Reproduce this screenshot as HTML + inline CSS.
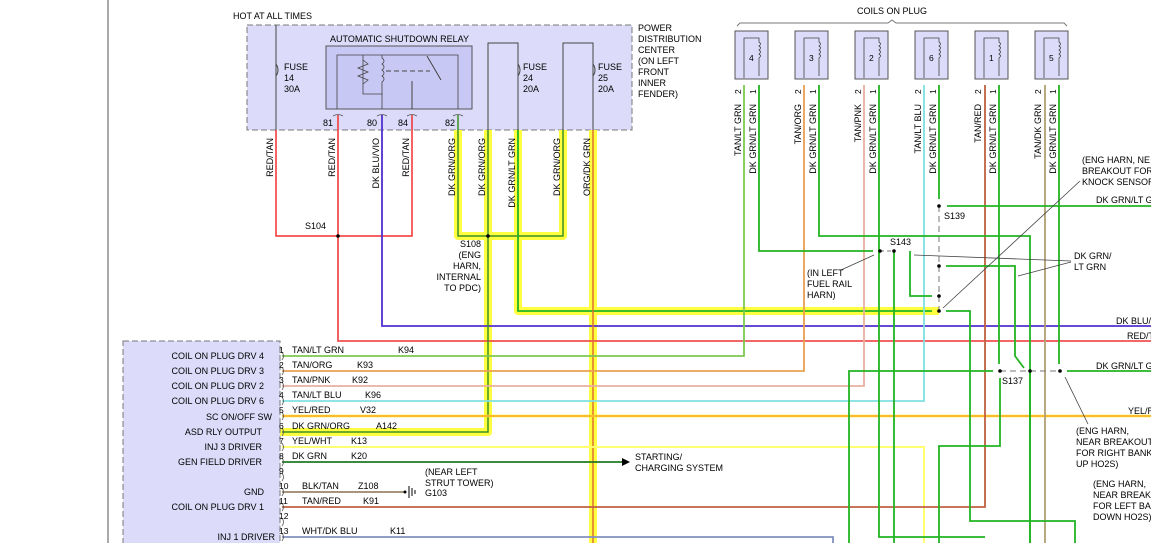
<!DOCTYPE html>
<html><head><meta charset="utf-8"><style>
html,body{margin:0;padding:0;background:#fff;}
svg{display:block;font-family:"Liberation Sans",sans-serif;font-size:9px;}
</style></head><body>
<svg width="1151" height="543" viewBox="0 0 1151 543" xmlns="http://www.w3.org/2000/svg">
<g fill="none" stroke-linecap="butt">
<!-- left border line -->
<line x1="108" y1="0" x2="108" y2="543" stroke="#555" stroke-width="1"/>
<!-- PDC box -->
<rect x="247" y="25" width="385" height="105" fill="#dcdcfa" stroke="#777" stroke-dasharray="6,3"/>
<rect x="326" y="46" width="146" height="63" fill="#c8c8f4" stroke="#555"/>
<!-- relay internals -->
<polyline points="337,109 337,55 458,55 458,109" stroke="#444" stroke-width="0.8" fill="none"/>
<polyline points="363,55 363,94 382,94 382,109" stroke="#444" stroke-width="0.8"/>
<polyline points="363,60 368,64 358,68 368,72 358,76 368,80 363,84" stroke="#444" stroke-width="0.8"/>
<path d="M382,55 v3 q4,3 0,6 q4,3 0,6 q4,3 0,6 q4,3 0,6 v13" stroke="#444" stroke-width="0.8"/>
<line x1="386" y1="71" x2="430" y2="71" stroke="#444" stroke-dasharray="5,3"/>
<line x1="427" y1="56" x2="441" y2="80" stroke="#444"/>
<line x1="412" y1="81" x2="412" y2="109" stroke="#444"/>
<!-- fuse 24/25 loops -->
<polyline points="488,130 488,43 518,43 518,130" stroke="#444"/>
<polyline points="563,130 563,43 593,43 593,130" stroke="#444"/>
<line x1="276" y1="25" x2="276" y2="130" stroke="#444"/>
<path d="M276,64 q4,6 0,12 M518,64 q4,6 0,12 M593,64 q4,6 0,12" stroke="#444"/>

<!-- yellow highlights -->
<g stroke="#ffff40" stroke-width="8" stroke-linejoin="round">
<polyline points="458,130 458,236 563,236 563,130"/>
<polyline points="488,130 488,432 280,432"/>
<polyline points="518,130 518,311 939,311"/>
<line x1="593" y1="130" x2="593" y2="543"/>
</g>
<!-- PDC wires -->
<polyline points="276,130 276,236 412,236 412,115" stroke="#f03030" stroke-width="1.5"/>
<polyline points="338,115 338,341 1151,341" stroke="#f05050" stroke-width="1.8"/>
<polyline points="382,115 382,326 1151,326" stroke="#5030d0" stroke-width="1.8"/>
<g stroke="#3a9020" stroke-width="1.5">
<polyline points="458,115 458,236 563,236 563,130"/>
<polyline points="488,130 488,432 282,432"/>
</g>
<polyline points="518,130 518,311 932,311" stroke="#22b422" stroke-width="1.8"/>
<line x1="593" y1="130" x2="593" y2="543" stroke="#e07030" stroke-width="1.5"/>

<!-- PCM box -->
<rect x="123" y="341" width="157" height="210" fill="#dcdcfa" stroke="#777" stroke-dasharray="6,3"/>

<!-- PCM row wires -->
<polyline points="282,356 744,356 744,85" stroke="#7ec850" stroke-width="1.8"/>
<polyline points="282,371 804,371 804,85" stroke="#e8a050" stroke-width="1.8"/>
<polyline points="282,386 864,386 864,85" stroke="#e8b0a0" stroke-width="1.8"/>
<polyline points="282,401 924,401 924,85" stroke="#80e0e0" stroke-width="1.8"/>
<line x1="282" y1="416" x2="1151" y2="416" stroke="#ffe020" stroke-width="2.5"/>
<line x1="282" y1="416" x2="1151" y2="416" stroke="#f05050" stroke-width="0.6"/>
<polyline points="282,447 924,447 924,543" stroke="#ffff70" stroke-width="2"/>
<line x1="282" y1="462" x2="622" y2="462" stroke="#207a20" stroke-width="1.8"/>
<polygon points="622,458 630,462 622,466" fill="#000"/>
<line x1="282" y1="492" x2="405" y2="492" stroke="#8a7050" stroke-width="1.5"/>
<polyline points="282,507 985,507 985,85" stroke="#c06040" stroke-width="1.8"/>
<polyline points="282,537 833,537 833,543" stroke="#8090c0" stroke-width="1.8"/>
<line x1="1045" y1="85" x2="1045" y2="543" stroke="#b0a070" stroke-width="1.8"/>
<!-- ground symbol -->
<path d="M409,486 v12 M412,488 v8 M415,490 v4" stroke="#000"/>

<!-- green network -->
<g stroke="#22b422" stroke-width="1.8">
<polyline points="759,85 759,251 873,251"/>
<polyline points="819,85 819,236 1030,236 1030,543"/>
<polyline points="879,85 879,537 985,537"/>
<polyline points="939,85 939,199"/>
<polyline points="999,85 999,364"/>
<polyline points="1059,85 1059,364"/>
<line x1="947" y1="206" x2="1151" y2="206"/>
<polyline points="910,251 910,296 932,296"/>
<polyline points="946,266 1015,266 1015,356 1024,368"/>
<polyline points="946,311 970,311 970,521 1075,521 1075,543"/>
<polyline points="894,251 894,543"/>
<polyline points="849,543 849,371 993,371"/>
<line x1="1067" y1="371" x2="1151" y2="371"/>
<polyline points="1000,378 1000,446 939,446 939,543"/>
<line x1="1030" y1="371" x2="1030" y2="543"/>
</g>
<line x1="939" y1="206" x2="939" y2="311" stroke="#777" stroke-dasharray="6,4"/>
<line x1="1000" y1="371" x2="1060" y2="371" stroke="#777" stroke-dasharray="6,4"/>
<line x1="880" y1="251" x2="894" y2="251" stroke="#777" stroke-dasharray="4,3"/>

<!-- coils -->
<g stroke="#555" fill="#dcdcfa">
<rect x="735" y="31" width="33" height="48"/><rect x="795" y="31" width="33" height="48"/>
<rect x="855" y="31" width="33" height="48"/><rect x="915" y="31" width="33" height="48"/>
<rect x="975" y="31" width="33" height="48"/><rect x="1035" y="31" width="33" height="48"/>
</g>
<g stroke="#444" stroke-width="0.8">
<path d="M744,78 v-40 h15 v4 q3,2 0,4 q3,2 0,4 q3,2 0,4 q3,2 0,4 v18"/>
<path d="M804,78 v-40 h15 v4 q3,2 0,4 q3,2 0,4 q3,2 0,4 q3,2 0,4 v18"/>
<path d="M864,78 v-40 h15 v4 q3,2 0,4 q3,2 0,4 q3,2 0,4 q3,2 0,4 v18"/>
<path d="M924,78 v-40 h15 v4 q3,2 0,4 q3,2 0,4 q3,2 0,4 q3,2 0,4 v18"/>
<path d="M984,78 v-40 h15 v4 q3,2 0,4 q3,2 0,4 q3,2 0,4 q3,2 0,4 v18"/>
<path d="M1044,78 v-40 h15 v4 q3,2 0,4 q3,2 0,4 q3,2 0,4 q3,2 0,4 v18"/>
</g>
<path d="M737,26 l3,-3 h148 l4,-3 l4,3 h168 l3,3" stroke="#777"/>
<!-- connector arcs PCM -->
<g stroke="#555" stroke-width="0.8">
<path d="M282,352 q3,4 0,8 M282,367 q3,4 0,8 M282,382 q3,4 0,8 M282,397 q3,4 0,8 M282,412 q3,4 0,8 M282,428 q3,4 0,8 M282,443 q3,4 0,8 M282,458 q3,4 0,8 M282,473 q3,4 0,8 M282,488 q3,4 0,8 M282,503 q3,4 0,8 M282,518 q3,4 0,8 M282,533 q3,4 0,8"/>
<path d="M333,116 q5,-3 10,0 M377,116 q5,-3 10,0 M407,116 q5,-3 10,0 M453,116 q5,-3 10,0"/>
</g>
<!-- leader lines -->
<g stroke="#444" stroke-width="0.8">
<line x1="1080" y1="181" x2="943" y2="308"/>
<line x1="1071" y1="261" x2="914" y2="255"/>
<line x1="1071" y1="262" x2="1018" y2="276"/>
<line x1="841" y1="270" x2="874" y2="255"/>
<line x1="1088" y1="424" x2="1065" y2="377"/>
</g>
</g>
<!-- dots -->
<g fill="#000">
<circle cx="338" cy="236" r="1.8"/><circle cx="488" cy="236" r="1.8"/>
<circle cx="939" cy="206" r="1.8"/><circle cx="880" cy="251" r="1.8"/><circle cx="894" cy="251" r="1.8"/>
<circle cx="939" cy="266" r="1.8"/><circle cx="939" cy="296" r="1.8"/><circle cx="939" cy="311" r="1.8"/>
<circle cx="1000" cy="371" r="1.8"/><circle cx="1030" cy="371" r="1.8"/><circle cx="1060" cy="371" r="1.8"/>
<circle cx="405" cy="492" r="1.5"/>
</g>

<!-- texts -->
<g fill="#000">
<text x="233" y="19">HOT AT ALL TIMES</text>
<text x="330" y="42">AUTOMATIC SHUTDOWN RELAY</text>
<text x="284" y="70">FUSE</text><text x="284" y="81">14</text><text x="284" y="92">30A</text>
<text x="523" y="70">FUSE</text><text x="523" y="81">24</text><text x="523" y="92">20A</text>
<text x="598" y="70">FUSE</text><text x="598" y="81">25</text><text x="598" y="92">20A</text>
<text x="638" y="31">POWER</text><text x="638" y="42">DISTRIBUTION</text><text x="638" y="53">CENTER</text>
<text x="638" y="64">(ON LEFT</text><text x="638" y="75">FRONT</text><text x="638" y="86">INNER</text><text x="638" y="97">FENDER)</text>
<text x="323" y="126">81</text><text x="367" y="126">80</text><text x="398" y="126">84</text><text x="445" y="126">82</text>
<text x="305" y="229">S104</text>
<text x="460" y="247">S108</text>
<text x="481" y="258" text-anchor="end">(ENG</text><text x="481" y="269" text-anchor="end">HARN,</text>
<text x="481" y="280" text-anchor="end">INTERNAL</text><text x="481" y="291" text-anchor="end">TO PDC)</text>
<text x="857" y="14">COILS ON PLUG</text>
<g font-size="8.5"><text x="749" y="61">4</text><text x="809" y="61">3</text><text x="869" y="61">2</text><text x="929" y="61">6</text><text x="989" y="61">1</text><text x="1049" y="61">5</text></g>
<text x="944" y="219">S139</text><text x="890" y="245">S143</text><text x="1002" y="384">S137</text>
<text x="807" y="276">(IN LEFT</text><text x="807" y="287">FUEL RAIL</text><text x="807" y="298">HARN)</text>
<text x="1082" y="163">(ENG HARN, NE</text><text x="1082" y="174">BREAKOUT FOR</text><text x="1082" y="185">KNOCK SENSOR</text>
<text x="1096" y="203">DK GRN/LT G</text>
<text x="1074" y="259">DK GRN/</text><text x="1074" y="270">LT GRN</text>
<text x="1116" y="324">DK BLU/</text><text x="1127" y="339">RED/T</text>
<text x="1096" y="369">DK GRN/LT G</text><text x="1128" y="414">YEL/R</text>
<text x="1076" y="434">(ENG HARN,</text><text x="1076" y="445">NEAR BREAKOUT</text><text x="1076" y="456">FOR RIGHT BANK</text><text x="1076" y="467">UP HO2S)</text>
<text x="1093" y="487">(ENG HARN,</text><text x="1093" y="498">NEAR BREAK</text><text x="1093" y="509">FOR LEFT BA</text><text x="1093" y="520">DOWN HO2S)</text>
<text x="635" y="460">STARTING/</text><text x="635" y="471">CHARGING SYSTEM</text>
<text x="425" y="475">(NEAR LEFT</text><text x="425" y="486">STRUT TOWER)</text><text x="425" y="496">G103</text>
<g text-anchor="end">
<text x="264" y="359">COIL ON PLUG DRV 4</text><text x="264" y="374">COIL ON PLUG DRV 3</text>
<text x="264" y="389">COIL ON PLUG DRV 2</text><text x="264" y="404">COIL ON PLUG DRV 6</text>
<text x="272" y="420">SC ON/OFF SW</text><text x="262" y="435">ASD RLY OUTPUT</text>
<text x="262" y="450">INJ 3 DRIVER</text><text x="262" y="465">GEN FIELD DRIVER</text>
<text x="264" y="495">GND</text><text x="264" y="510">COIL ON PLUG DRV 1</text>
<text x="275" y="540">INJ 1 DRIVER</text>
</g>
<g font-size="8.5">
<text x="279" y="353">1</text><text x="279" y="368">2</text><text x="279" y="383">3</text><text x="279" y="398">4</text>
<text x="279" y="413">5</text><text x="279" y="429">6</text><text x="279" y="444">7</text><text x="279" y="459">8</text>
<text x="279" y="474">9</text><text x="279" y="489">10</text><text x="279" y="504">11</text><text x="279" y="519">12</text><text x="279" y="534">13</text>
</g>
<text x="292" y="353">TAN/LT GRN</text><text x="398" y="353">K94</text>
<text x="292" y="368">TAN/ORG</text><text x="357" y="368">K93</text>
<text x="292" y="383">TAN/PNK</text><text x="352" y="383">K92</text>
<text x="292" y="398">TAN/LT BLU</text><text x="365" y="398">K96</text>
<text x="292" y="413">YEL/RED</text><text x="360" y="413">V32</text>
<text x="292" y="429">DK GRN/ORG</text><text x="376" y="429">A142</text>
<text x="292" y="444">YEL/WHT</text><text x="351" y="444">K13</text>
<text x="292" y="459">DK GRN</text><text x="351" y="459">K20</text>
<text x="302" y="489">BLK/TAN</text><text x="358" y="489">Z108</text>
<text x="302" y="504">TAN/RED</text><text x="363" y="504">K91</text>
<text x="302" y="534">WHT/DK BLU</text><text x="390" y="534">K11</text>
<!-- vertical labels -->
<g text-anchor="end">
<text transform="translate(273,138) rotate(-90)">RED/TAN</text>
<text transform="translate(335,138) rotate(-90)">RED/TAN</text>
<text transform="translate(379,138) rotate(-90)">DK BLU/VIO</text>
<text transform="translate(409,138) rotate(-90)">RED/TAN</text>
<text transform="translate(455,138) rotate(-90)">DK GRN/ORG</text>
<text transform="translate(485,138) rotate(-90)">DK GRN/ORG</text>
<text transform="translate(515,138) rotate(-90)">DK GRN/LT GRN</text>
<text transform="translate(560,138) rotate(-90)">DK GRN/ORG</text>
<text transform="translate(590,138) rotate(-90)">ORG/DK GRN</text>
<text transform="translate(741,104) rotate(-90)">TAN/LT GRN</text>
<text transform="translate(756,104) rotate(-90)">DK GRN/LT GRN</text>
<text transform="translate(801,104) rotate(-90)">TAN/ORG</text>
<text transform="translate(816,104) rotate(-90)">DK GRN/LT GRN</text>
<text transform="translate(861,104) rotate(-90)">TAN/PNK</text>
<text transform="translate(876,104) rotate(-90)">DK GRN/LT GRN</text>
<text transform="translate(921,104) rotate(-90)">TAN/LT BLU</text>
<text transform="translate(936,104) rotate(-90)">DK GRN/LT GRN</text>
<text transform="translate(981,104) rotate(-90)">TAN/RED</text>
<text transform="translate(996,104) rotate(-90)">DK GRN/LT GRN</text>
<text transform="translate(1041,104) rotate(-90)">TAN/DK GRN</text>
<text transform="translate(1056,104) rotate(-90)">DK GRN/LT GRN</text>
</g>
<g font-size="8.5">
<text transform="translate(741,94) rotate(-90)">2</text><text transform="translate(756,94) rotate(-90)">1</text>
<text transform="translate(801,94) rotate(-90)">2</text><text transform="translate(816,94) rotate(-90)">1</text>
<text transform="translate(861,94) rotate(-90)">2</text><text transform="translate(876,94) rotate(-90)">1</text>
<text transform="translate(921,94) rotate(-90)">2</text><text transform="translate(936,94) rotate(-90)">1</text>
<text transform="translate(981,94) rotate(-90)">2</text><text transform="translate(996,94) rotate(-90)">1</text>
<text transform="translate(1041,94) rotate(-90)">2</text><text transform="translate(1056,94) rotate(-90)">1</text>
</g>
</g>
</svg>
</body></html>
